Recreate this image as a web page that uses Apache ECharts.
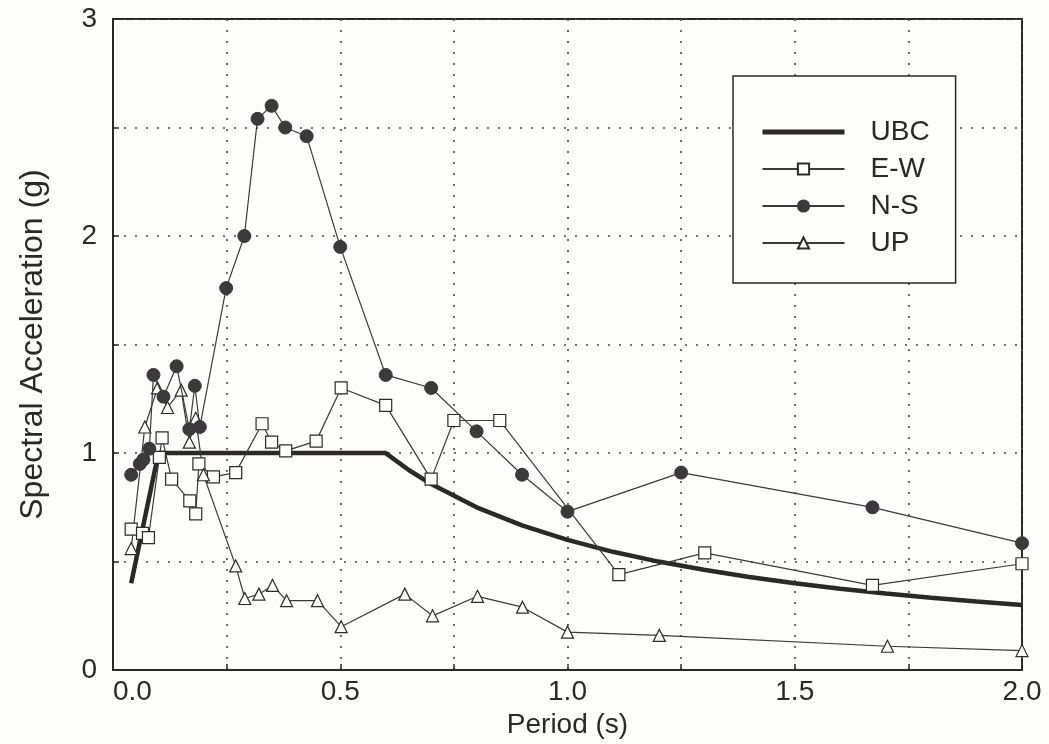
<!DOCTYPE html>
<html>
<head>
<meta charset="utf-8">
<script src="https://cdn.jsdelivr.net/npm/echarts@6/dist/echarts.min.js"></script>
<style>
  html, body { margin: 0; padding: 0; background: #fdfdfc; }
  #chart { width: 1049px; height: 744px; }
</style>
</head>
<body>
<div id="chart"></div>
<script>
// ---- Data ----
const seriesNames = ['UBC', 'E-W', 'N-S', 'UP'];

const periodsUBC = [0.04, 0.1, 0.6, 0.65, 0.7, 0.8, 0.9, 1.0, 1.1, 1.2, 1.3, 1.4, 1.5, 1.6, 1.7, 1.8, 1.9, 2.0];
const ubc        = [0.40, 1.0, 1.0, 0.923, 0.857, 0.75, 0.667, 0.60, 0.545, 0.50, 0.462, 0.429, 0.40, 0.375, 0.353, 0.333, 0.316, 0.30];

const periodsEW = [0.04, 0.065, 0.078, 0.102, 0.108, 0.129, 0.169, 0.182, 0.189, 0.221, 0.27, 0.328, 0.349, 0.38, 0.447, 0.502, 0.6, 0.7, 0.75, 0.851, 1.113, 1.302, 1.671, 2.0];
const ew        = [0.65, 0.63, 0.61, 0.98, 1.07, 0.88, 0.78, 0.72, 0.95, 0.89, 0.91, 1.135, 1.05, 1.01, 1.055, 1.30, 1.22, 0.88, 1.15, 1.15, 0.44, 0.54, 0.39, 0.49];

const periodsNS = [0.04, 0.059, 0.067, 0.08, 0.089, 0.111, 0.14, 0.168, 0.18, 0.191, 0.249, 0.289, 0.318, 0.349, 0.379, 0.426, 0.5, 0.6, 0.7, 0.8, 0.9, 1.0, 1.25, 1.671, 2.0];
const ns        = [0.90, 0.95, 0.97, 1.02, 1.36, 1.26, 1.40, 1.11, 1.31, 1.12, 1.76, 2.00, 2.54, 2.60, 2.50, 2.46, 1.95, 1.36, 1.30, 1.10, 0.90, 0.73, 0.91, 0.75, 0.585];

const periodsUP = [0.04, 0.07, 0.098, 0.12, 0.15, 0.168, 0.182, 0.199, 0.27, 0.29, 0.321, 0.351, 0.382, 0.45, 0.502, 0.642, 0.703, 0.802, 0.901, 1.0, 1.202, 1.704, 2.0];
const up        = [0.56, 1.12, 1.30, 1.21, 1.29, 1.05, 1.16, 0.90, 0.48, 0.33, 0.35, 0.39, 0.32, 0.32, 0.20, 0.35, 0.25, 0.34, 0.29, 0.175, 0.16, 0.11, 0.09];

const xTickLabels = ['0.0', '0.5', '1.0', '1.5', '2.0'];
const yTickLabels = ['0', '1', '2', '3'];

const xTitle = 'Period (s)';
const yTitle = 'Spectral Acceleration (g)';

// ---- Build ----
function pairs(xs, ys) { return xs.map((x, i) => [x, ys[i]]); }

const FONT = '"Liberation Sans", Arial, Helvetica, sans-serif';
const INK = '#2b2829';
const gridLine = { show: true, lineStyle: { color: '#4a4a4a', width: 1.6, type: [2, 9] } };

const chart = echarts.init(document.getElementById('chart'), null, { renderer: 'canvas' });

const legendData = [
  { name: seriesNames[0], itemStyle: { opacity: 0 }, lineStyle: { width: 5, color: INK } },
  { name: seriesNames[1] },
  { name: seriesNames[2] },
  { name: seriesNames[3] }
];

const option = {
  backgroundColor: '#fdfdfc',
  animation: false,
  grid: {
    left: 113, right: 27, top: 19, bottom: 73,
    show: true, borderColor: INK, borderWidth: 2, backgroundColor: 'transparent'
  },
  legend: {
    data: legendData,
    orient: 'vertical',
    left: 733, top: 76,
    padding: [41, 26, 25, 27],
    itemWidth: 82, itemHeight: 14, itemGap: 7,
    borderColor: INK, borderWidth: 1.5, backgroundColor: '#fdfdfc',
    textStyle: { fontFamily: FONT, fontSize: 28, color: INK, lineHeight: 30, padding: [0, 0, 0, 21] },
    inactiveColor: INK
  },
  xAxis: {
    type: 'value', min: 0, max: 2, interval: 0.25,
    name: xTitle, nameLocation: 'middle', nameGap: 35,
    nameTextStyle: { fontFamily: FONT, fontSize: 28, color: INK },
    axisLine: { show: true, onZero: false, lineStyle: { color: INK, width: 2 } },
    axisTick: { show: true, inside: true, length: 6, lineStyle: { color: INK, width: 1.5 } },
    axisLabel: {
      fontFamily: FONT, fontSize: 28, color: INK, margin: 8,
      alignMinLabel: 'left',
      formatter: function (v) {
        const k = Math.round(v / 0.5);
        return Math.abs(v - k * 0.5) < 1e-6 ? xTickLabels[k] : '';
      }
    },
    splitLine: gridLine
  },
  yAxis: {
    type: 'value', min: 0, max: 3, interval: 0.5,
    name: yTitle, nameLocation: 'middle', nameGap: 64, nameRotate: 90,
    nameTextStyle: { fontFamily: FONT, fontSize: 32, color: INK },
    axisLine: { show: true, onZero: false, lineStyle: { color: INK, width: 2 } },
    axisTick: { show: true, inside: true, length: 6, lineStyle: { color: INK, width: 1.5 } },
    axisLabel: {
      fontFamily: FONT, fontSize: 28, color: INK, margin: 16,
      formatter: function (v) {
        const k = Math.round(v);
        return Math.abs(v - k) < 1e-6 ? yTickLabels[k] : '';
      }
    },
    splitLine: gridLine
  },
  series: [
    {
      name: seriesNames[0], type: 'line', data: pairs(periodsUBC, ubc),
      showSymbol: false, symbol: 'none', z: 3,
      lineStyle: { color: INK, width: 4.5 }, itemStyle: { color: INK }
    },
    {
      name: seriesNames[1], type: 'line', data: pairs(periodsEW, ew),
      symbol: 'rect', symbolSize: 12, z: 4,
      lineStyle: { color: '#3a3a3a', width: 1.2 },
      itemStyle: { color: '#fdfdfc', borderColor: '#2b2b2b', borderWidth: 1.2 }
    },
    {
      name: seriesNames[2], type: 'line', data: pairs(periodsNS, ns),
      symbol: 'circle', symbolSize: 13, z: 5,
      lineStyle: { color: '#3a3a3a', width: 1.2 },
      itemStyle: { color: '#3d383b', borderColor: '#3d383b', borderWidth: 1 }
    },
    {
      name: seriesNames[3], type: 'line', data: pairs(periodsUP, up),
      symbol: 'triangle', symbolSize: 12, z: 4,
      lineStyle: { color: '#3a3a3a', width: 1.2 },
      itemStyle: { color: '#fdfdfc', borderColor: '#2b2b2b', borderWidth: 1.2 }
    }
  ]
};

chart.setOption(option);
</script>
</body>
</html>
